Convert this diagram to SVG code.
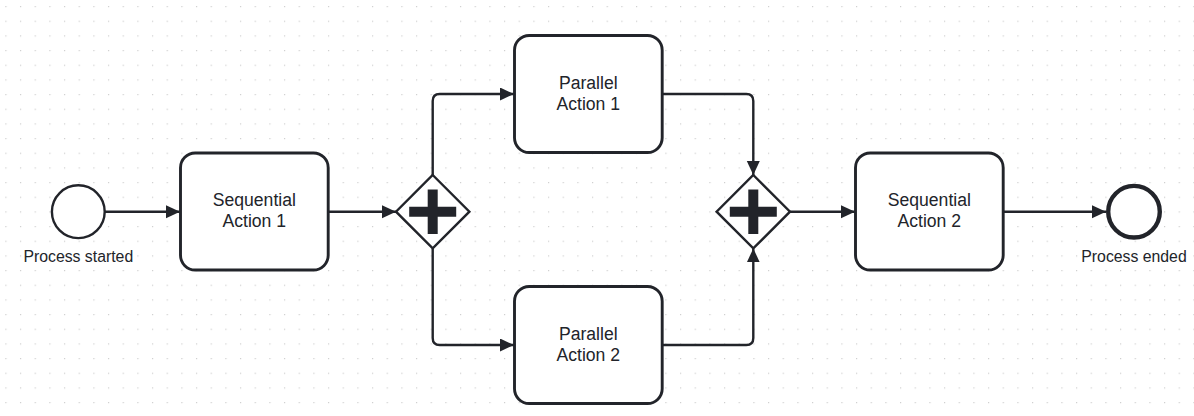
<svg xmlns="http://www.w3.org/2000/svg" width="1194" height="416" viewBox="0 0 1194 416">
  <style>
    .task { fill: #ffffff; stroke: #22242a; stroke-width: 2.9; }
    .gw { fill: #ffffff; stroke: #22242a; stroke-width: 2.4; }
    .plus { fill: #22242a; }
    .flow { fill: none; stroke: #22242a; stroke-width: 2.4; marker-end: url(#arrow); }
    .lbl { font-family: "Liberation Sans", Arial, sans-serif; font-size: 17.6px; fill: #22242a; text-anchor: middle; }
    .ext { font-family: "Liberation Sans", Arial, sans-serif; font-size: 15.8px; fill: #22242a; text-anchor: middle; }
  </style>
  <defs>
    <pattern id="grid" x="5.3" y="6" width="14.667" height="14.667" patternUnits="userSpaceOnUse">
      <rect x="0" y="0" width="1.2" height="1.2" fill="#cfcfcf"/>
    </pattern>
    <marker id="arrow" markerUnits="userSpaceOnUse" markerWidth="16" markerHeight="16" refX="14" refY="6.5" orient="auto">
      <path d="M0,0 L14,6.5 L0,13 Z" fill="#22242a"/>
    </marker>
  </defs>
  <rect width="1194" height="416" fill="#ffffff"/>
  <rect width="1194" height="416" fill="url(#grid)"/>

  <g id="connectors">
    <path class="flow" d="M104.7,211.7 L180,211.7"/>
    <path class="flow" d="M328.5,211.7 L396,211.7"/>
    <path class="flow" d="M432.7,175 L432.7,101 Q432.7,94 439.7,94 L514,94"/>
    <path class="flow" d="M432.7,248.4 L432.7,338 Q432.7,345 439.7,345 L514,345"/>
    <path class="flow" d="M662.5,94 L746.3,94 Q753.3,94 753.3,101 L753.3,175"/>
    <path class="flow" d="M662.5,345 L746.3,345 Q753.3,345 753.3,338 L753.3,248.4"/>
    <path class="flow" d="M790,211.7 L855,211.7"/>
    <path class="flow" d="M1003,211.7 L1106,211.7"/>
  </g>

  <g id="start">
    <circle cx="78.3" cy="211.7" r="26.4" fill="#ffffff" stroke="#22242a" stroke-width="2.4"/>
    <text class="ext" x="78.3" y="262.3">Process started</text>
  </g>

  <g id="seq1">
    <rect class="task" x="180.5" y="153" width="147.7" height="117" rx="14.7"/>
    <text class="lbl" x="254.3" y="206.2">Sequential</text>
    <text class="lbl" x="254.3" y="227.2">Action 1</text>
  </g>

  <g id="gw1">
    <path class="gw" d="M432.7,175 L469.4,211.7 L432.7,248.4 L396,211.7 Z"/>
    <path class="plus" d="M427.7,189.5 h10 v17.2 h18.5 v10 h-18.5 v17.2 h-10 v-17.2 h-18.5 v-10 h18.5 Z"/>
  </g>

  <g id="par1">
    <rect class="task" x="514.5" y="35.5" width="147.7" height="117" rx="14.7"/>
    <text class="lbl" x="588.3" y="88.5">Parallel</text>
    <text class="lbl" x="588.3" y="109.5">Action 1</text>
  </g>

  <g id="par2">
    <rect class="task" x="514.5" y="286.5" width="147.7" height="117" rx="14.7"/>
    <text class="lbl" x="588.3" y="339.5">Parallel</text>
    <text class="lbl" x="588.3" y="360.5">Action 2</text>
  </g>

  <g id="gw2">
    <path class="gw" d="M753.3,175 L790,211.7 L753.3,248.4 L716.6,211.7 Z"/>
    <path class="plus" d="M748.3,189.5 h10 v17.2 h18.5 v10 h-18.5 v17.2 h-10 v-17.2 h-18.5 v-10 h18.5 Z"/>
  </g>

  <g id="seq2">
    <rect class="task" x="855.5" y="153" width="147.7" height="117" rx="14.7"/>
    <text class="lbl" x="929.3" y="206.2">Sequential</text>
    <text class="lbl" x="929.3" y="227.2">Action 2</text>
  </g>

  <g id="end">
    <circle cx="1134" cy="211.7" r="25.8" fill="#ffffff" stroke="#22242a" stroke-width="4.4"/>
    <text class="ext" x="1134" y="262.3">Process ended</text>
  </g>
</svg>
